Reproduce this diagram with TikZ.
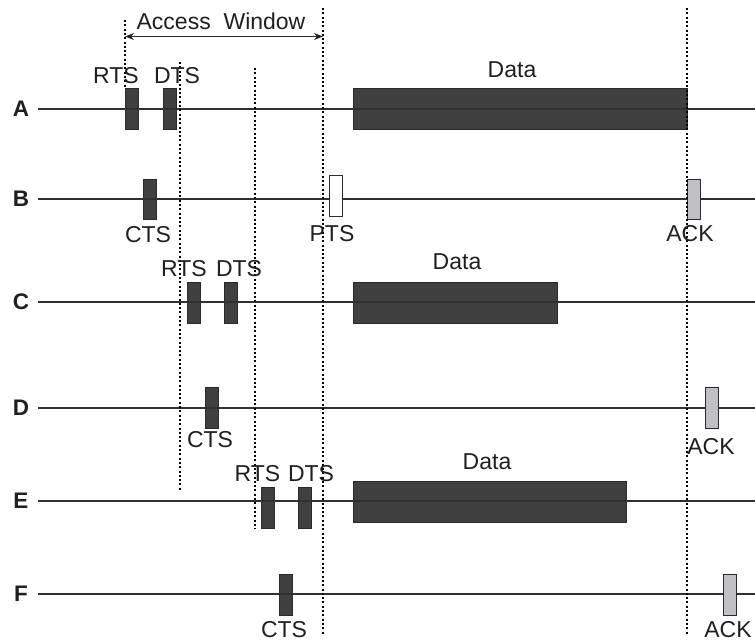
\documentclass[tikz,border=0pt]{standalone}
\usepackage{fontspec}
\setmainfont{Liberation Sans}
\usetikzlibrary{arrows.meta}
\definecolor{pktdark}{HTML}{404040}
\definecolor{pktedge}{HTML}{2A2A2A}
\definecolor{ackgrey}{HTML}{C0C0C4}
\definecolor{rowgrey}{HTML}{303030}
\begin{document}
\begin{tikzpicture}[x=1pt,y=-1pt,
  every node/.style={inner sep=0pt,outer sep=0pt},
  txt/.style={font=\fontsize{23}{26}\selectfont,text=black!88},
  rowlbl/.style={font=\fontsize{22.5}{26}\selectfont\bfseries,text=black!88},
  pktbox/.style={draw=pktedge,line width=0.8pt,fill=pktdark,minimum width=13pt,minimum height=41pt},
  ptsbox/.style={draw=pktedge,line width=0.8pt,fill=white,minimum width=13pt,minimum height=41pt},
  ackbox/.style={draw=pktedge,line width=0.8pt,fill=ackgrey,minimum width=13pt,minimum height=41pt},
  rowline/.style={draw=rowgrey,line width=1.4pt},
  dotline/.style={draw=black,line width=2.8pt,dash pattern=on 2pt off 2.3pt},
  winarrow/.style={draw=black!85,line width=1.3pt,{Stealth[length=9pt,width=7pt]}-{Stealth[length=9pt,width=7pt]}}
]
\useasboundingbox (0,0) rectangle (755,643);

% row labels
\node[rowlbl] (A) at (21,109) {A};
\node[rowlbl] (B) at (21,199) {B};
\node[rowlbl] (C) at (21,302) {C};
\node[rowlbl] (D) at (21,408) {D};
\node[rowlbl] (E) at (21,501) {E};
\node[rowlbl] (F) at (21,594) {F};

% dark packets (drawn under the row lines)
\node[pktbox] (aRTS) at (131.5,109) {};
\node[pktbox] (aDTS) at (169.5,109) {};
\node[pktbox,minimum width=334pt] (aData) at (520,108.5) {};
\node[pktbox,minimum height=40pt] (bCTS) at (150,199) {};
\node[pktbox] (cRTS) at (193.5,302.5) {};
\node[pktbox] (cDTS) at (231,302.5) {};
\node[pktbox,minimum width=204pt] (cData) at (455,302.5) {};
\node[pktbox] (dCTS) at (211.5,407.5) {};
\node[pktbox] (eRTS) at (267.5,508) {};
\node[pktbox] (eDTS) at (305,508) {};
\node[pktbox,minimum width=273pt] (eData) at (489.5,501.5) {};
\node[pktbox] (fCTS) at (285.5,595) {};

% row lines
\coordinate (a0) at (38,109); \coordinate (a1) at (755,109);
\coordinate (b0) at (38,199); \coordinate (b1) at (755,199);
\coordinate (c0) at (38,302); \coordinate (c1) at (755,302);
\coordinate (d0) at (38,408); \coordinate (d1) at (755,408);
\coordinate (e0) at (38,501); \coordinate (e1) at (755,501);
\coordinate (f0) at (38,594); \coordinate (f1) at (755,594);
\draw[rowline] (a0) -- (a1);
\draw[rowline] (b0) -- (b1);
\draw[rowline] (c0) -- (c1);
\draw[rowline] (d0) -- (d1);
\draw[rowline] (e0) -- (e1);
\draw[rowline] (f0) -- (f1);

% light packets
\node[ptsbox] (bPTS) at (335.5,195.5) {};
\node[ackbox,minimum height=40pt] (bACK) at (693.5,199) {};
\node[ackbox] (dACK) at (712,407.5) {};
\node[ackbox] (fACK) at (730,594.5) {};

% dotted time markers
\coordinate (m1t) at (125,20);  \coordinate (m1b) at (125,88);
\coordinate (m2t) at (180,62);  \coordinate (m2b) at (180,490);
\coordinate (m3t) at (255,68);  \coordinate (m3b) at (255,529);
\coordinate (m4t) at (323,8);   \coordinate (m4b) at (323,634);
\coordinate (m5t) at (687,8);   \coordinate (m5b) at (687,634);
\draw[dotline] (m1t) -- (m1b);
\draw[dotline] (m2t) -- (m2b);
\draw[dotline] (m3t) -- (m3b);
\draw[dotline] (m4t) -- (m4b);
\draw[dotline] (m5t) -- (m5b);

% access window
\coordinate (w0) at (125,36.5); \coordinate (w1) at (323,36.5);
\draw[winarrow] (w0) -- (w1);
\node[txt] (win) at (221,21.5) {Access\ \ Window};

% packet labels
\node[txt] (laRTS) at (116,75.5) {RTS};
\node[txt] (laDTS) at (177,75.5) {DTS};
\node[txt] (laData) at (512,69.5) {Data};
\node[txt] (lbCTS) at (148,235) {CTS};
\node[txt] (lbPTS) at (332,234) {PTS};
\node[txt] (lbACK) at (690,234) {ACK};
\node[txt] (lcRTS) at (184,269) {RTS};
\node[txt] (lcDTS) at (239,269) {DTS};
\node[txt] (lcData) at (457,262) {Data};
\node[txt] (ldCTS) at (210,440) {CTS};
\node[txt] (ldACK) at (711,447) {ACK};
\node[txt] (leRTS) at (257.5,474) {RTS};
\node[txt] (leDTS) at (311,474) {DTS};
\node[txt] (leData) at (487,462) {Data};
\node[txt] (lfCTS) at (284,630) {CTS};
\node[txt] (lfACK) at (728,630) {ACK};
\end{tikzpicture}
\end{document}
